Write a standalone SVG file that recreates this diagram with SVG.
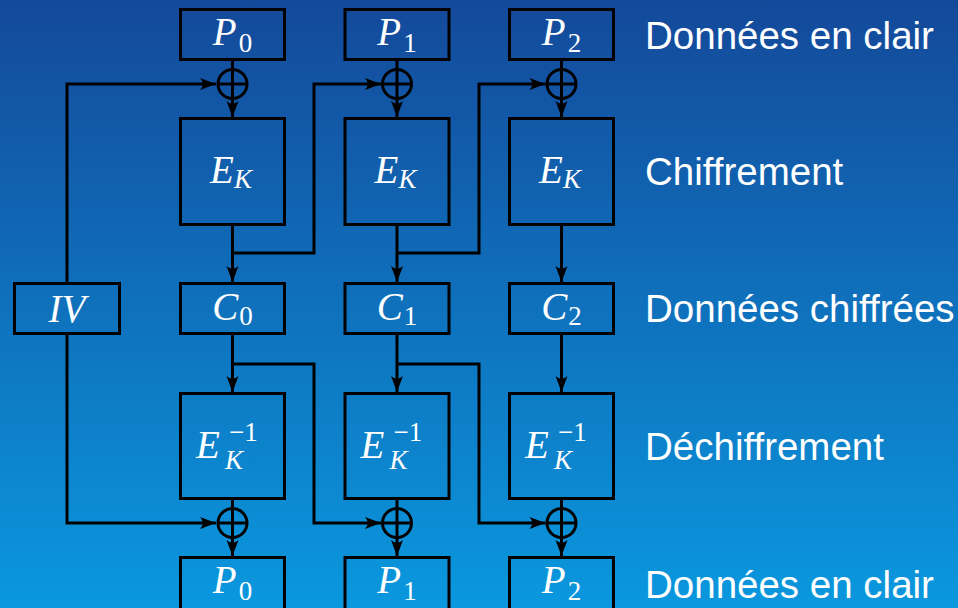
<svg xmlns="http://www.w3.org/2000/svg" width="958" height="608" viewBox="0 0 958 608">
  <defs>
    <linearGradient id="bg" x1="0" y1="0" x2="0" y2="1">
      <stop offset="0" stop-color="#14499a"/>
      <stop offset="1" stop-color="#0a98de"/>
    </linearGradient>
    <marker id="arrow" markerUnits="userSpaceOnUse" markerWidth="18" markerHeight="14" viewBox="-17 -7 18 14" refX="0" refY="0" orient="auto">
      <path d="M0,0 L-16,-6 Q-10.5,0 -16,6 Z" fill="#000"/>
    </marker>
    <style>
      .box { fill: none; stroke: #000; stroke-width: 3; }
      .wire { fill: none; stroke: #000; stroke-width: 3; }
      .xor circle, .xor line { fill: none; stroke: #000; stroke-width: 3; }
      .math { font-family: "Liberation Serif", "DejaVu Serif", serif; fill: #fff; font-size: 39px; }
      .it { font-style: italic; }
      .sub { font-size: 27px; }
      .label { font-family: "Liberation Sans", Arial, sans-serif; fill: #fff; font-size: 38.5px; }
    </style>
  </defs>

  <rect x="0" y="0" width="958" height="608" fill="url(#bg)"/>

  <!-- connectors -->
  <g id="connectors">
    <!-- IV feeds first XOR of both chains -->
    <path class="wire" d="M67,283 V84 H216" marker-end="url(#arrow)"/>
    <path class="wire" d="M67,334 V523 H216" marker-end="url(#arrow)"/>
    <!-- encryption: plaintext through XOR into E_K -->
    <path class="wire" d="M232.5,60 V117" marker-end="url(#arrow)"/>
    <path class="wire" d="M397,60 V117" marker-end="url(#arrow)"/>
    <path class="wire" d="M561.5,60 V117" marker-end="url(#arrow)"/>
    <!-- E_K outputs to ciphertext -->
    <path class="wire" d="M232.5,225 V282" marker-end="url(#arrow)"/>
    <path class="wire" d="M397,225 V282" marker-end="url(#arrow)"/>
    <path class="wire" d="M561.5,225 V282" marker-end="url(#arrow)"/>
    <!-- chaining of ciphertext into next encryption -->
    <path class="wire" d="M232.5,253 H314 V84 H381" marker-end="url(#arrow)"/>
    <path class="wire" d="M397,253 H479 V84 H545.5" marker-end="url(#arrow)"/>
    <!-- ciphertext into decryption -->
    <path class="wire" d="M232.5,334 V392" marker-end="url(#arrow)"/>
    <path class="wire" d="M397,334 V392" marker-end="url(#arrow)"/>
    <path class="wire" d="M561.5,334 V392" marker-end="url(#arrow)"/>
    <!-- chaining of ciphertext into next decryption XOR -->
    <path class="wire" d="M232.5,364 H314 V523 H381" marker-end="url(#arrow)"/>
    <path class="wire" d="M397,364 H479 V523 H545.5" marker-end="url(#arrow)"/>
    <!-- decryption outputs through XOR to plaintext -->
    <path class="wire" d="M232.5,499 V556" marker-end="url(#arrow)"/>
    <path class="wire" d="M397,499 V556" marker-end="url(#arrow)"/>
    <path class="wire" d="M561.5,499 V556" marker-end="url(#arrow)"/>
  </g>

  <!-- XOR operators -->
  <g id="xor-enc-0" class="xor"><circle cx="232.5" cy="84" r="14.5"/><line x1="218" y1="84" x2="247" y2="84"/></g>
  <g id="xor-enc-1" class="xor"><circle cx="397" cy="84" r="14.5"/><line x1="382.5" y1="84" x2="411.5" y2="84"/></g>
  <g id="xor-enc-2" class="xor"><circle cx="561.5" cy="84" r="14.5"/><line x1="547" y1="84" x2="576" y2="84"/></g>
  <g id="xor-dec-0" class="xor"><circle cx="232.5" cy="523" r="14.5"/><line x1="218" y1="523" x2="247" y2="523"/></g>
  <g id="xor-dec-1" class="xor"><circle cx="397" cy="523" r="14.5"/><line x1="382.5" y1="523" x2="411.5" y2="523"/></g>
  <g id="xor-dec-2" class="xor"><circle cx="561.5" cy="523" r="14.5"/><line x1="547" y1="523" x2="576" y2="523"/></g>

  <!-- IV -->
  <g id="iv">
    <rect class="box" x="14.5" y="283.5" width="105" height="50"/>
    <text class="math it" x="67" y="322" text-anchor="middle">IV</text>
  </g>

  <!-- plaintext blocks (top) -->
  <g id="p0-top">
    <rect class="box" x="180.5" y="9.5" width="104" height="50"/>
    <text class="math" x="232.5" y="45" text-anchor="middle"><tspan class="it">P</tspan><tspan class="sub" dx="2" dy="7">0</tspan></text>
  </g>
  <g id="p1-top">
    <rect class="box" x="345" y="9.5" width="104" height="50"/>
    <text class="math" x="397" y="45" text-anchor="middle"><tspan class="it">P</tspan><tspan class="sub" dx="2" dy="7">1</tspan></text>
  </g>
  <g id="p2-top">
    <rect class="box" x="509.5" y="9.5" width="104" height="50"/>
    <text class="math" x="561.5" y="45" text-anchor="middle"><tspan class="it">P</tspan><tspan class="sub" dx="2" dy="7">2</tspan></text>
  </g>

  <!-- encryption blocks -->
  <g id="enc-0">
    <rect class="box" x="180.5" y="118.5" width="104" height="106"/>
    <text class="math" x="231" y="183" text-anchor="middle"><tspan class="it">E</tspan><tspan class="sub it" dy="5">K</tspan></text>
  </g>
  <g id="enc-1">
    <rect class="box" x="345" y="118.5" width="104" height="106"/>
    <text class="math" x="395.5" y="183" text-anchor="middle"><tspan class="it">E</tspan><tspan class="sub it" dy="5">K</tspan></text>
  </g>
  <g id="enc-2">
    <rect class="box" x="509.5" y="118.5" width="104" height="106"/>
    <text class="math" x="560" y="183" text-anchor="middle"><tspan class="it">E</tspan><tspan class="sub it" dy="5">K</tspan></text>
  </g>

  <!-- ciphertext blocks -->
  <g id="c0">
    <rect class="box" x="180.5" y="283.5" width="104" height="50"/>
    <text class="math" x="232.5" y="320" text-anchor="middle"><tspan class="it">C</tspan><tspan class="sub" dx="1" dy="5">0</tspan></text>
  </g>
  <g id="c1">
    <rect class="box" x="345" y="283.5" width="104" height="50"/>
    <text class="math" x="397" y="320" text-anchor="middle"><tspan class="it">C</tspan><tspan class="sub" dx="1" dy="5">1</tspan></text>
  </g>
  <g id="c2">
    <rect class="box" x="509.5" y="283.5" width="104" height="50"/>
    <text class="math" x="561.5" y="320" text-anchor="middle"><tspan class="it">C</tspan><tspan class="sub" dx="1" dy="5">2</tspan></text>
  </g>

  <!-- decryption blocks -->
  <g id="dec-0">
    <rect class="box" x="180.5" y="393.5" width="104" height="105"/>
    <text class="math it" x="196" y="458">E</text>
    <text class="math sub" x="229" y="441">−1</text>
    <text class="math sub it" x="225" y="469">K</text>
  </g>
  <g id="dec-1">
    <rect class="box" x="345" y="393.5" width="104" height="105"/>
    <text class="math it" x="360.5" y="458">E</text>
    <text class="math sub" x="393.5" y="441">−1</text>
    <text class="math sub it" x="389.5" y="469">K</text>
  </g>
  <g id="dec-2">
    <rect class="box" x="509.5" y="393.5" width="104" height="105"/>
    <text class="math it" x="525" y="458">E</text>
    <text class="math sub" x="558" y="441">−1</text>
    <text class="math sub it" x="554" y="469">K</text>
  </g>

  <!-- plaintext blocks (bottom) -->
  <g id="p0-bottom">
    <rect class="box" x="180.5" y="557.5" width="104" height="60"/>
    <text class="math" x="232.5" y="593" text-anchor="middle"><tspan class="it">P</tspan><tspan class="sub" dx="2" dy="7">0</tspan></text>
  </g>
  <g id="p1-bottom">
    <rect class="box" x="345" y="557.5" width="104" height="60"/>
    <text class="math" x="397" y="593" text-anchor="middle"><tspan class="it">P</tspan><tspan class="sub" dx="2" dy="7">1</tspan></text>
  </g>
  <g id="p2-bottom">
    <rect class="box" x="509.5" y="557.5" width="104" height="60"/>
    <text class="math" x="561.5" y="593" text-anchor="middle"><tspan class="it">P</tspan><tspan class="sub" dx="2" dy="7">2</tspan></text>
  </g>

  <!-- row captions -->
  <g id="captions">
    <text class="label" x="645" y="49">Données en clair</text>
    <text class="label" x="645" y="185">Chiffrement</text>
    <text class="label" x="645" y="322">Données chiffrées</text>
    <text class="label" x="645" y="460">Déchiffrement</text>
    <text class="label" x="645" y="598">Données en clair</text>
  </g>
</svg>
